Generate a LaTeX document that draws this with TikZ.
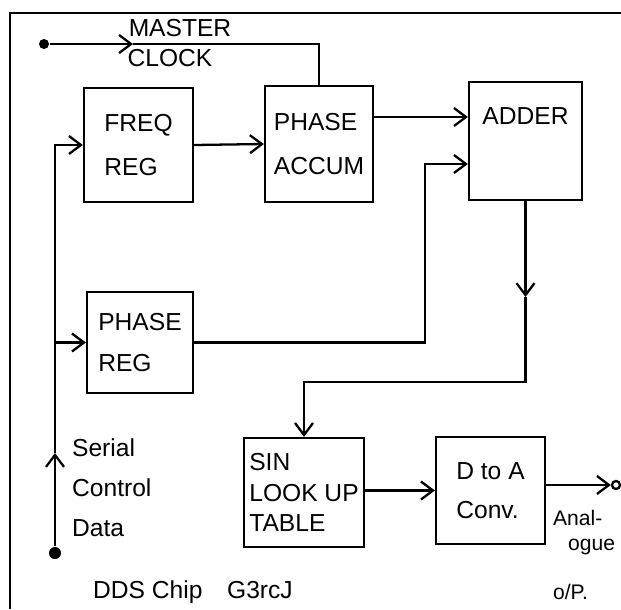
\documentclass[tikz,border=0pt]{standalone}
\usepackage{fontspec}
\setmainfont{Liberation Sans}
\usetikzlibrary{arrows.meta,positioning,calc}
\newcommand{\hand}{\fontsize{14}{20}\selectfont}

\begin{document}
\begin{tikzpicture}[x=0.02cm,y=-0.02cm,line width=1.3pt,
  block/.style={draw,line width=1.3pt,align=left,font=\hand,inner sep=2pt},
  sig/.style={-{Straight Barb[length=2.4mm,width=3.6mm]}},
  txt/.style={font=\hand,align=left,inner sep=0pt},
  terminal/.style={circle,fill,inner sep=0pt,minimum size=#1},
  outlet/.style={circle,draw,fill=white,inner sep=0pt,minimum size=0.16cm}]
\useasboundingbox (0,0) rectangle (621,609);
% Chip outline
\draw (621,13) -- (10,13) -- (10,609);
% Blocks
\node[block,minimum width=2.18cm,minimum height=2.28cm] (freq) at (138.5,145) {FREQ\\[0.18cm]REG};
\node[block,minimum width=2.16cm,minimum height=2.32cm] (accum) at (319,144) {PHASE\\[0.16cm]ACCUM};
\node[block,minimum width=2.26cm,minimum height=2.36cm,text depth=1.0cm] (adder) at (525.5,141) {ADDER};
\node[block,minimum width=2.12cm,minimum height=2.02cm] (phreg) at (140,342.5) {PHASE\\[0.1cm]REG};
\node[block,minimum width=2.4cm,minimum height=2.18cm,font=\fontsize{14}{17.5}\selectfont] (sin) at (304,492.5) {SIN\\LOOK UP\\TABLE};
\node[block,minimum width=2.18cm,minimum height=2.14cm] (dtoa) at (490.5,490.5) {D to A\\[0.08cm]Conv.};
% Clock input
\node[terminal=0.2cm] (clk) at (44,44) {};
\coordinate (clkarr) at (133,44);
\draw[sig] (clk) -- (clkarr);
\draw (clkarr) -| (accum.north);
\node[txt] (master) at (180,28) {MASTER};
\node[txt] (clock) at (170,58) {CLOCK};
% Serial control data
\node[terminal=0.24cm] (ser) at (55,553) {};
\coordinate (serarr) at (55,453);
\draw[sig] (ser) -- (serarr);
\draw[sig] (serarr) |- (freq.west);
\draw[sig] (serarr |- phreg.west) -- (phreg.west);
\node[txt,anchor=west] (serlbl) at (71,488) {Serial\\[0.1cm]Control\\[0.1cm]Data};
% Data path
\draw[sig] (freq.east) -- (accum.west);
\draw[sig] ([yshift=0.54cm]accum.east) -- ([yshift=0.54cm]accum.east -| adder.west);
\coordinate (join) at (425,164);
\draw[sig] (phreg.east) -| (join) -- (join -| adder.west);
\coordinate (addarr) at (adder.south |- 0,297);
\coordinate (turn) at (adder.south |- 0,382);
\draw[sig] (adder.south) -- (addarr);
\draw[sig] (addarr) -- (turn) -| (sin.north);
\draw[sig] (sin.east |- dtoa.west) -- (dtoa.west);
% Analogue output
\node[outlet] (out) at (616,485) {};
\draw[sig] (dtoa.east |- out) -- (out);
\node[txt,anchor=north west,font=\fontsize{12}{14}\selectfont] (oplbl) at (552,509) {Anal-\\\hspace{0.3cm}ogue\\[14pt]o/P.};
\node[txt] (chip) at (193,592) {DDS Chip\quad G3rcJ};
\end{tikzpicture}
\end{document}
